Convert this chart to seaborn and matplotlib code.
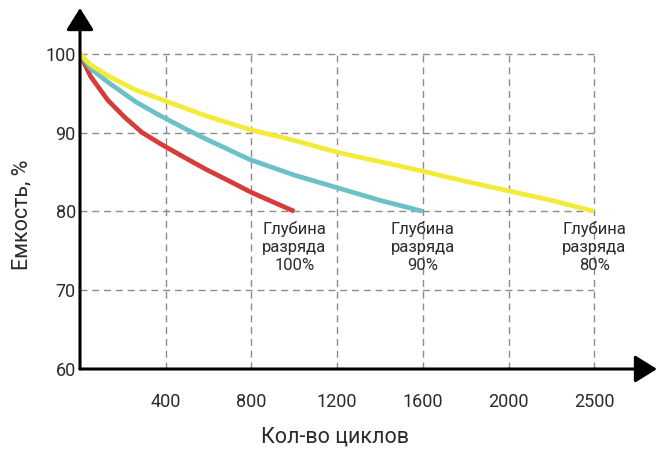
import numpy as np
import pandas as pd
import matplotlib
matplotlib.use("Agg")
import matplotlib.pyplot as plt
import seaborn as sns

# Cycle counts and remaining capacity (%) for each depth of discharge
cycles_100 = [0, 20, 50, 130, 210, 290, 380, 490, 590, 700, 800, 900, 1000]
capacity_100 = [100, 98.8, 97.1, 94.1, 91.9, 90.0, 88.5, 86.8, 85.3, 83.8,
                82.4, 81.2, 80.0]

cycles_90 = [0, 20, 50, 130, 260, 370, 490, 590, 790, 1000, 1200, 1400, 1600]
capacity_90 = [100, 99.2, 98.1, 96.4, 93.9, 92.2, 90.5, 89.15, 86.6, 84.6,
               83.0, 81.4, 80.0]

cycles_80 = [0, 20, 50, 130, 260, 400, 490, 590, 790, 1000, 1200, 1400, 1600,
             1800, 2000, 2250, 2500]
capacity_80 = [100, 99.4, 98.6, 97.2, 95.4, 94.0, 93.1, 92.1, 90.4, 89.0, 87.5,
               86.3, 85.1, 83.8, 82.6, 81.4, 80.0]

series_names = ["100%", "90%", "80%"]
series_colors = ["#d63c3a", "#6cc0c8", "#f3eb3a"]

x_ticks = [400, 800, 1200, 1600, 2000, 2500]
y_ticks = [60, 70, 80, 90, 100]
label_text = "Глубина\nразряда\n{}"

df = pd.concat([
    pd.DataFrame({"cycles": c, "capacity": v, "depth": n})
    for c, v, n in zip([cycles_100, cycles_90, cycles_80],
                       [capacity_100, capacity_90, capacity_80],
                       series_names)
], ignore_index=True)

sns.set_theme(style="white")
plt.rcParams["font.family"] = ["Roboto", "DejaVu Sans"]
text_color = "#2b2b2b"

fig = plt.figure(figsize=(6.66, 4.57), dpi=100)
W, H = 666, 457
ax = fig.add_axes([80 / W, (H - 369) / H, (657 - 80) / W, (369 - 8) / H])

# Evenly spaced tick positions even though the last step is 500 cycles
knots = np.array([0, 400, 800, 1200, 1600, 2000, 2500, 3000], dtype=float)
slots = np.arange(len(knots), dtype=float)
ax.set_xscale("function",
              functions=(lambda x: np.interp(x, knots, slots),
                         lambda p: np.interp(p, slots, knots)))

# Dashed grid bounded by the data area
grid_kw = dict(color="#8c8c8c", lw=1.0, linestyle=(0, (5, 3.5)), zorder=1)
for yv in y_ticks[1:]:
    ax.plot([0, x_ticks[-1]], [yv, yv], **grid_kw)
for xv in x_ticks:
    ax.plot([xv, xv], [y_ticks[0], y_ticks[-1]], **grid_kw)

sns.lineplot(data=df, x="cycles", y="capacity", hue="depth",
             hue_order=series_names, palette=series_colors,
             linewidth=3.4, legend=False, ax=ax, zorder=3, sort=True)
for line in ax.get_lines()[-3:]:
    line.set_solid_capstyle("butt")
    line.set_solid_joinstyle("round")

ax.set_xlabel("")
ax.set_ylabel("")
ax.set_xlim(0, 2866)
ax.set_ylim(60, 105.8)

ax.set_xticks(x_ticks)
ax.set_xticklabels([str(t) for t in x_ticks])
ax.set_yticks(y_ticks)
ax.set_yticklabels([str(t) for t in y_ticks])
ax.tick_params(axis="both", length=0, labelsize=13, colors=text_color)
ax.tick_params(axis="x", pad=17)
ax.tick_params(axis="y", pad=3)

for s in ["top", "right", "left", "bottom"]:
    ax.spines[s].set_visible(False)

# Axis lines with arrow heads
arrow_kw = dict(arrowstyle="-|>,head_length=0.45,head_width=0.28",
                lw=2.2, color="black", mutation_scale=30,
                shrinkA=0, shrinkB=0)
ax.annotate("", xy=(0, 1), xytext=(0, 0), xycoords="axes fraction",
            arrowprops=arrow_kw, annotation_clip=False)
ax.annotate("", xy=(1, 0), xytext=(0, 0), xycoords="axes fraction",
            arrowprops=arrow_kw, annotation_clip=False)

# End-of-curve labels
ends = [(cycles_100[-1], capacity_100[-1]),
        (cycles_90[-1], capacity_90[-1]),
        (cycles_80[-1], capacity_80[-1])]
for (cx, cy), name in zip(ends, series_names):
    ax.annotate(label_text.format(name), xy=(cx, cy), xytext=(0, -7),
                textcoords="offset points", ha="center", va="top",
                fontsize=12, color=text_color, linespacing=1.25)

fig.text(335 / W, 1 - 437 / H, "Кол-во циклов", ha="center", va="center",
         fontsize=15.5, color=text_color)
fig.text(22 / W, 1 - 215 / H, "Емкость, %", ha="center", va="center",
         rotation=90, fontsize=15.5, color=text_color)

fig.savefig("out.png", dpi=100, facecolor="white")
